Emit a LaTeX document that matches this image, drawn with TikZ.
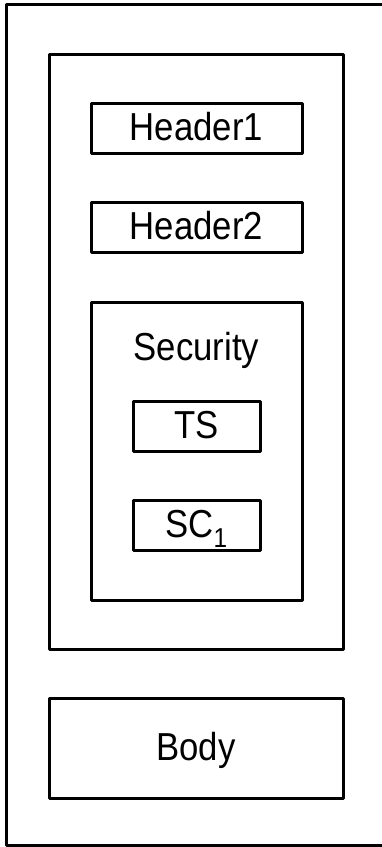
\documentclass[tikz,border=0pt]{standalone}
\usepackage{fontspec}
\setmainfont{Liberation Sans}[FakeStretch=0.89]
\begin{document}
\begin{tikzpicture}[x=1pt, y=-1pt, line width=3pt,
  box/.style = {draw, rectangle, inner sep=0pt, line join=round},
  lbl/.style = {font=\fontsize{39}{44}\selectfont, text height=28pt, text depth=3pt}]
\useasboundingbox (0,0) rectangle (382,847);
%frames
\node [box, minimum width=386pt, minimum height=841pt] (envelope) at (199,424.5) {};
\node [box, minimum width=294pt, minimum height=595pt] (head) at (196,351.5) {};
%headers
\node [box, lbl, minimum width=211pt, minimum height=50pt] (hdra) at (196.5,128) {Header1};
\node [box, lbl, minimum width=211pt, minimum height=50pt] (hdrb) at (196.5,227) {Header2};
%security block
\node [box, minimum width=211pt, minimum height=298pt] (sec) at (196.5,451) {};
\node [font=\fontsize{39}{44}\selectfont, anchor=base] (seclbl) at (196.5,360) {Security};
\node [box, lbl, minimum width=127pt, minimum height=50pt] (ts) at (196.5,426) {TS};
\node [box, lbl, minimum width=127pt, minimum height=50pt] (sc) at (196.5,525) {SC\textsubscript{1}};
%body
\node [box, lbl, minimum width=294pt, minimum height=100pt] (body) at (196,748) {Body};
\end{tikzpicture}
\end{document}
